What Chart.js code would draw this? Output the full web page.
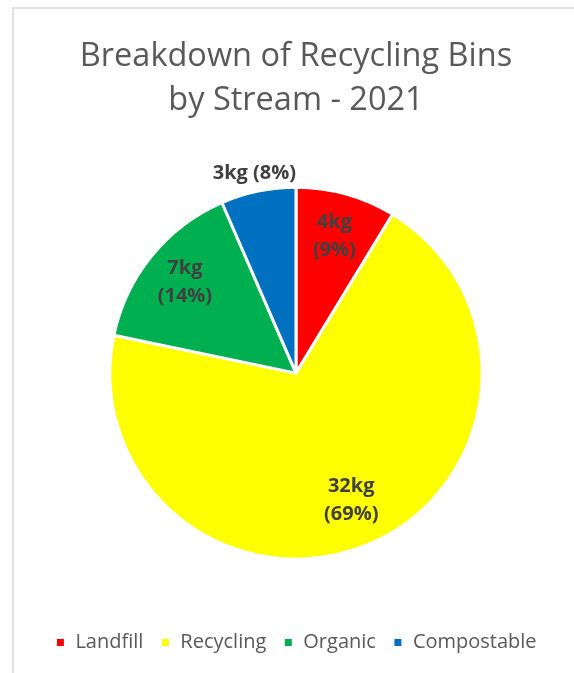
<!DOCTYPE html>
<html>
<head>
<meta charset="utf-8">
<title>Breakdown of Recycling Bins by Stream - 2021</title>
<script src="https://cdn.jsdelivr.net/npm/chart.js@4.4.1/dist/chart.umd.min.js"></script>
<style>
	html, body { margin: 0; padding: 0; background: #fff; overflow: hidden; }
	#frame {
		position: absolute; left: 12px; top: 7px; width: 600px; height: 700px;
		border: 2px solid #e2e2e2; box-sizing: border-box;
	}
	#wrap { position: absolute; left: 0; top: 0; width: 574px; height: 673px; }
</style>
</head>
<body>
<div id="frame"></div>
<div id="wrap"><canvas id="bins-chart"></canvas></div>
<script>
// ── Data ────────────────────────────────────────────────────────────────────

const STREAMS = ['Landfill', 'Recycling', 'Organic', 'Compostable']
const WEIGHT_KG = [4, 32, 7, 3]
const PCT_LABELS = [9, 69, 14, 8]
const COLOURS = ['#ff0000', '#ffff00', '#00b050', '#0070c0']

const FONT = "'Open Sans', 'Liberation Sans', sans-serif"

// ── Slice labels ("4kg (9%)") ───────────────────────────────────────────────

const sliceLabels = {
	id: 'sliceLabels',
	afterDatasetsDraw(chart, args, opts) {
		const meta = chart.getDatasetMeta(0)
		const ctx = chart.ctx
		ctx.save()
		ctx.font = `bold ${opts.size}px ${FONT}`
		ctx.fillStyle = opts.color
		ctx.textAlign = 'center'
		ctx.textBaseline = 'middle'
		meta.data.forEach((arc, i) => {
			const p = arc.getProps(['x', 'y', 'startAngle', 'endAngle', 'outerRadius'], true)
			const mid = (p.startAngle + p.endAngle) / 2
			const r = p.outerRadius * opts.radius[i]
			const cx = p.x + Math.cos(mid) * r
			const cy = p.y + Math.sin(mid) * r
			const kg = `${WEIGHT_KG[i]}kg`
			const pct = `(${PCT_LABELS[i]}%)`
			if (opts.split[i]) {
				ctx.fillText(kg, cx, cy - opts.lineGap / 2)
				ctx.fillText(pct, cx, cy + opts.lineGap / 2)
			} else {
				ctx.fillText(`${kg} ${pct}`, cx, cy)
			}
		})
		ctx.restore()
	},
}

// ── Chart ───────────────────────────────────────────────────────────────────

new Chart(document.getElementById('bins-chart'), {
	type: 'pie',
	data: {
		labels: STREAMS,
		datasets: [
			{
				data: WEIGHT_KG,
				backgroundColor: COLOURS,
				borderColor: '#ffffff',
				borderWidth: 3,
				radius: 186,
			},
		],
	},
	options: {
		responsive: true,
		maintainAspectRatio: false,
		animation: false,
		layout: { padding: { left: 18, right: 0, top: 0, bottom: 10.5 } },
		plugins: {
			title: {
				display: true,
				text: ['Breakdown of Recycling Bins', 'by Stream - 2021'],
				color: '#595959',
				font: { family: FONT, size: 32.5, weight: 'normal', lineHeight: 1.35 },
				padding: { top: 35, bottom: 8 },
			},
			legend: {
				display: true,
				position: 'bottom',
				labels: {
					boxWidth: 10,
					boxHeight: 10,
					padding: 17,
					color: '#595959',
					font: { family: FONT, size: 20 },
				},
			},
			tooltip: { enabled: false },
			sliceLabels: {
				size: 20,
				color: '#404040',
				lineGap: 28,
				radius: [0.765, 0.745, 0.77, 1.1],
				split: [true, true, true, false],
			},
		},
	},
	plugins: [sliceLabels],
})
</script>
</body>
</html>
